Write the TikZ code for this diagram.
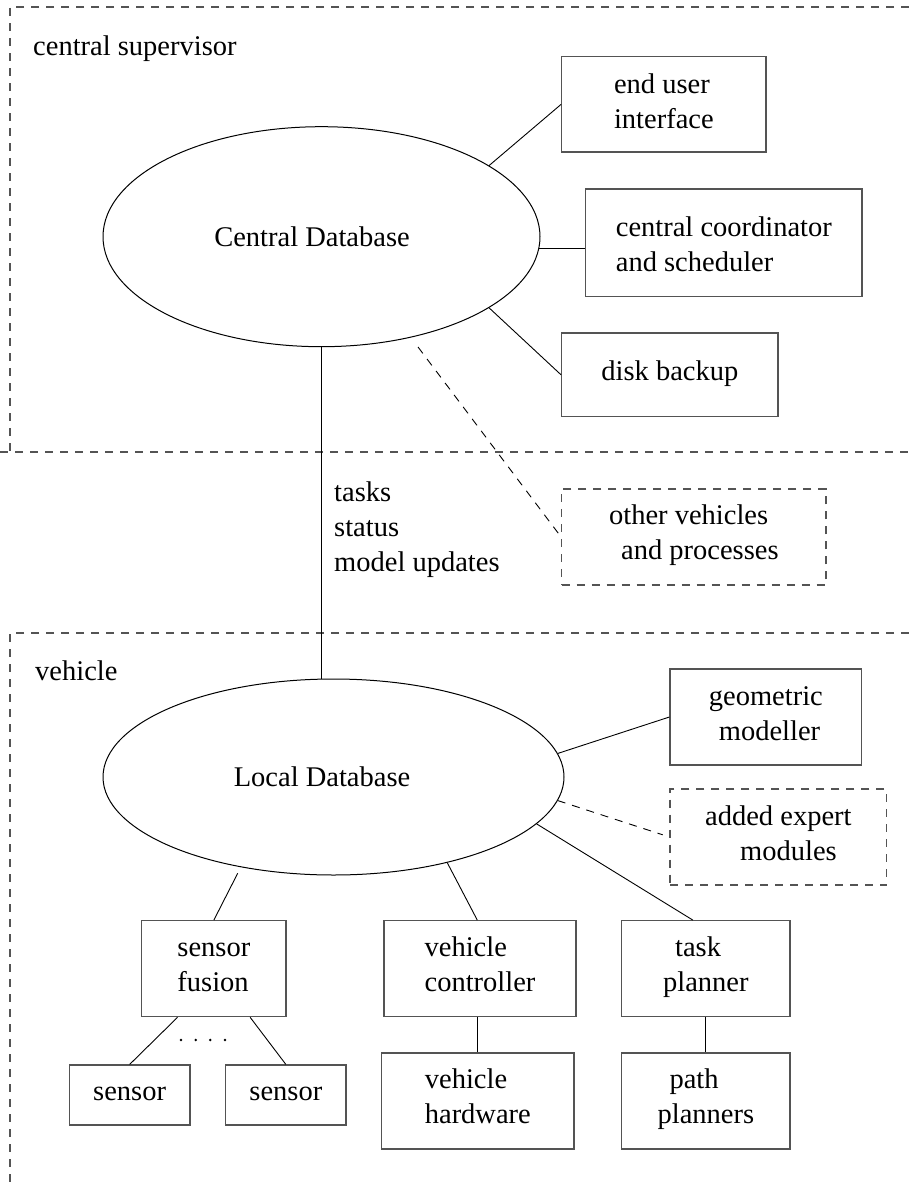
\documentclass[tikz,border=0pt]{standalone}
\usepackage{fontspec}
\setmainfont{Liberation Serif}
\usetikzlibrary{shapes.geometric}
\definecolor{edgegray}{gray}{0.33}
\newcommand\lns[2]{\parbox[t]{#1}{#2}}
\begin{document}
\begin{tikzpicture}[x=1pt,y=-1pt,
  font=\fontsize{28.5}{35}\selectfont,
  bx/.style={draw=edgegray,line width=1.2pt,inner sep=0pt,rectangle},
  dbx/.style={bx,dash pattern=on 8pt off 7pt},
  frame/.style={draw=edgegray,line width=1.1pt,dash pattern=on 8pt off 7pt},
  conn/.style={draw=black,line width=0.9pt},
  dconn/.style={conn,dash pattern=on 8pt off 7pt},
  db/.style={draw=black,line width=1pt,ellipse,inner sep=0pt},
  lbl/.style={inner sep=0pt,anchor=base west}]
\useasboundingbox (0,0) rectangle (909,1183);

% frames
\draw[frame] (909,7) -- (10,7) -- (10,452);
\draw[frame] (0,452) -- (909,452);
\draw[frame] (909,633) -- (10,633) -- (10,1183);

\node[lbl] (cs) at (33,55) {central supervisor};
\node[lbl] (veh) at (35,680) {vehicle};

% databases
\node[db,minimum width=437pt,minimum height=220pt] (cdb) at (321.5,236.7) {Central Database\hspace*{19pt}};
\node[db,minimum width=461pt,minimum height=196pt] (ldb) at (333.5,777) {Local Database\hspace*{23pt}};

% central boxes
\node[bx,minimum width=204.3pt,minimum height=95.3pt,text height=0pt,text depth=22.7pt] (eui) at (663.85,104.35)
  {\lns{131.7pt}{\hbox{end user}\hbox{interface}}};
\node[bx,minimum width=276.3pt,minimum height=107.7pt,text height=0pt,text depth=12.3pt] (ccs) at (723.85,242.85)
  {\lns{203.7pt}{\hbox{central coordinator}\hbox{and scheduler}}};
\node[bx,minimum width=216.3pt,minimum height=83.7pt,text height=11.7pt,text depth=0pt] (disk) at (669.85,374.85)
  {\lns{166.3pt}{\hbox{disk backup}}};
\node[dbx,minimum width=264.3pt,minimum height=96pt,text height=0pt,text depth=26pt] (ov) at (693.85,537)
  {\lns{215.7pt}{\hbox{other vehicles}\hbox{\hspace*{12pt}and processes}}};

\node[lbl] (msg) at (334,501) {\lns{200pt}{\hbox{tasks}\hbox{status}\hbox{model updates}}};

% vehicle boxes
\node[bx,minimum width=191.7pt,minimum height=96pt,text height=0pt,text depth=24pt] (geo) at (765.85,717)
  {\lns{141.7pt}{\hbox{geometric}\hbox{\hspace*{10pt}modeller}}};
\node[dbx,minimum width=216.7pt,minimum height=96pt,text height=0pt,text depth=24pt] (aem) at (778.35,837)
  {\lns{166.7pt}{\hbox{added expert}\hbox{\hspace*{35pt}modules}}};
\node[bx,minimum width=144.3pt,minimum height=96pt,text height=0pt,text depth=24pt] (sf) at (213.85,968.7)
  {\lns{71.7pt}{\hbox{sensor}\hbox{fusion}}};
\node[bx,minimum width=192pt,minimum height=96pt,text height=0pt,text depth=24pt] (vc) at (480,968.7)
  {\lns{124pt}{\hbox{vehicle}\hbox{controller}}};
\node[bx,minimum width=168.3pt,minimum height=96pt,text height=0pt,text depth=24pt] (tp) at (705.85,968.7)
  {\lns{95.7pt}{\hbox{\hspace*{12pt}task}\hbox{planner}}};
\node[bx,minimum width=120.7pt,minimum height=60pt,text height=10pt,text depth=0pt] (s1) at (129.65,1095)
  {\lns{70.7pt}{\hbox{sensor}}};
\node[bx,minimum width=120.3pt,minimum height=60pt,text height=10pt,text depth=0pt] (s2) at (285.85,1095)
  {\lns{71.7pt}{\hbox{sensor}}};
\node[bx,minimum width=192.3pt,minimum height=96pt,text height=0pt,text depth=26pt] (vh) at (477.85,1101)
  {\lns{119.7pt}{\hbox{vehicle}\hbox{hardware}}};
\node[bx,minimum width=168.3pt,minimum height=96pt,text height=0pt,text depth=26pt] (pp) at (705.85,1101)
  {\lns{95.7pt}{\hbox{\hspace*{12pt}path}\hbox{planners}}};

% connectors
\draw[conn] (cdb.23.3) -- (eui.west);
\draw[conn] (cdb.-3.24) -- (cdb.-3.24 -| ccs.west);
\draw[conn] (cdb.-23.2) -- (disk.west);
\coordinate (ovs) at (418,347);
\draw[dconn] (ovs) -- (ov.west);
\draw[conn] (cdb.south) -- (cdb.south |- ldb.north);
\draw[conn] (ldb.6) -- (geo.west);
\draw[dconn,shorten >=7pt] (ldb.-6.15) -- (aem.west);
\draw[conn] (ldb.-13.5) -- ([xshift=-13pt]tp.north);
\draw[conn] (ldb.-37.8) -- ([xshift=-2.7pt]vc.north);
\coordinate (sfs) at (237.7,873.3);
\draw[conn] (sfs) -- (sf.north);
\draw[conn] ([xshift=-36.3pt]sf.south) -- (s1.north);
\draw[conn] ([xshift=36.3pt]sf.south) -- (s2.north);
\draw[conn] (vh.north) -- (vh.north |- vc.south);
\draw[conn] (tp.south) -- (pp.north);
\foreach \px in {181,195.7,210.3,225} \fill (\px,1040) circle (1.4pt);
\end{tikzpicture}
\end{document}
